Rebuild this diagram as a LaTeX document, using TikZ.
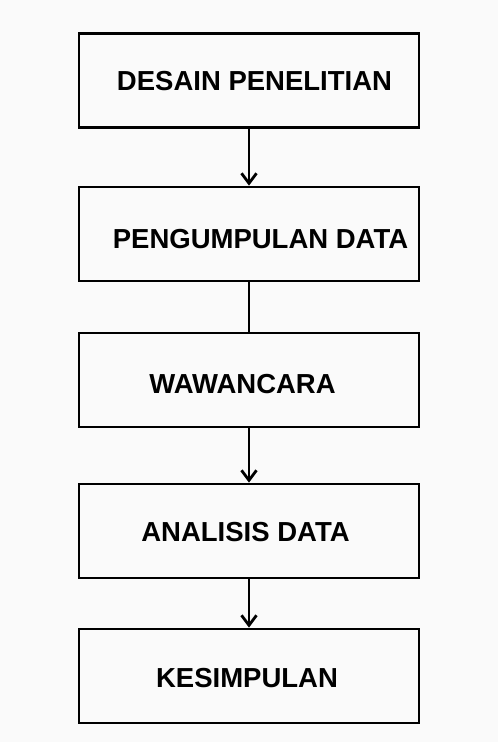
\documentclass[tikz,border=0pt]{standalone}
\usepackage{fontspec}
\setmainfont{Liberation Sans}
\usetikzlibrary{arrows.meta}
\begin{document}
\begin{tikzpicture}[x=1pt,y=1pt]
		\tikzstyle{every node}+=[inner sep=0pt]
		\tikzstyle{stepbox}=[draw=black, line width=2.8pt, minimum width=340pt, minimum height=94pt]
		\tikzstyle{steplabel}=[anchor=base, font=\bfseries\fontsize{27.5}{30}\selectfont]
		\tikzstyle{flow}=[black, line width=2.8pt]
		\fill [white!98!black] (0,0) rectangle (498,-742);
		\useasboundingbox (0,0) rectangle (498,-742);
		\node [stepbox] (desain) at (249,-80.5) {};
		\draw (254.5,-90) node [steplabel] (desainlbl) {DESAIN PENELITIAN};
		\node [stepbox] (pengumpulan) at (249,-234) {};
		\draw (260.5,-248) node [steplabel] (pengumpulanlbl) {PENGUMPULAN DATA};
		\node [stepbox] (wawancara) at (249,-380) {};
		\draw (242.5,-393) node [steplabel] (wawancaralbl) {WAWANCARA};
		\node [stepbox] (analisis) at (249,-531) {};
		\draw (245.5,-541) node [steplabel] (analisislbl) {ANALISIS DATA};
		\node [stepbox] (kesimpulan) at (249,-676) {};
		\draw (247,-687) node [steplabel] (kesimpulanlbl) {KESIMPULAN};
		\draw [flow, -{Straight Barb[length=10pt,width=15pt]}] (desain) -- (pengumpulan);
		\draw [flow] (pengumpulan) -- (wawancara);
		\draw [flow, -{Straight Barb[length=10pt,width=15pt]}] (wawancara) -- (analisis);
		\draw [flow, -{Straight Barb[length=10pt,width=15pt]}] (analisis) -- (kesimpulan);
	\end{tikzpicture}
\end{document}
